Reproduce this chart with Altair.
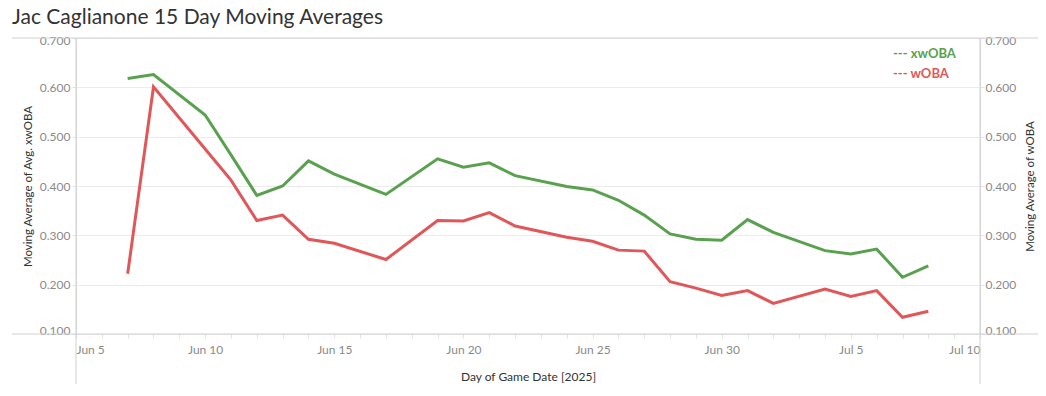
import altair as alt
import pandas as pd

dates = ["2025-06-07", "2025-06-08", "2025-06-10", "2025-06-11", "2025-06-12", "2025-06-13",
         "2025-06-14", "2025-06-15", "2025-06-17", "2025-06-19", "2025-06-20", "2025-06-21",
         "2025-06-22", "2025-06-24", "2025-06-25", "2025-06-26", "2025-06-27", "2025-06-28",
         "2025-06-29", "2025-06-30", "2025-07-01", "2025-07-02", "2025-07-04", "2025-07-05",
         "2025-07-06", "2025-07-07", "2025-07-08"]
xwoba = [0.618, 0.626, 0.544, 0.463, 0.381, 0.400, 0.451, 0.424, 0.383, 0.455, 0.438, 0.447,
         0.421, 0.399, 0.392, 0.371, 0.341, 0.303, 0.292, 0.290, 0.332, 0.306, 0.269, 0.262,
         0.272, 0.215, 0.238]
woba = [0.222, 0.601, 0.475, 0.412, 0.330, 0.341, 0.292, 0.284, 0.251, 0.330, 0.329, 0.346,
        0.319, 0.296, 0.288, 0.270, 0.268, 0.206, 0.193, 0.178, 0.188, 0.162, 0.191, 0.176,
        0.188, 0.134, 0.146]
y_ticks = [0.1, 0.2, 0.3, 0.4, 0.5, 0.6, 0.7]
legend_labels = ["--- xwOBA", "--- wOBA"]

GREEN = "#59A14F"
RED = "#E15759"
FONT = "Lato"
W, H = 904, 296

df = pd.DataFrame({"date": dates, "xwOBA": xwoba, "wOBA": woba})

day_ticks = [alt.DateTime(year=d.year, month=d.month, date=d.day, utc=True)
             for d in pd.date_range("2025-06-05", "2025-07-10", freq="D")]
x_domain = [alt.DateTime(year=2025, month=6, date=5, utc=True),
            alt.DateTime(year=2025, month=7, date=10, utc=True)]

x_scale = alt.Scale(type="utc", domain=x_domain, nice=False)
y_scale = alt.Scale(domain=[0.1, 0.7], nice=False, zero=False)

x_axis = alt.Axis(
    values=day_ticks,
    labelExpr="utcdate(datum.value) % 5 == 0 ? utcFormat(datum.value, '%b %-d') : ''",
    labelOverlap=False, labelFlush=True, grid=False, domain=False,
    tickSize=4, tickColor="#e3e3e3", labelPadding=6, labelColor="#8a8a8a",
    labelFontSize=12, labelFont=FONT, title="Day of Game Date [2025]",
    titleFont=FONT, titleFontSize=12, titleFontWeight="normal", titleColor="#333333",
    titlePadding=16,
)

base = alt.Chart(df)

green = base.mark_line(color=GREEN, strokeWidth=3).encode(
    x=alt.X("date:T", scale=x_scale, axis=x_axis),
    y=alt.Y("xwOBA:Q", scale=y_scale, axis=alt.Axis(
        values=y_ticks, format=".3f", grid=True, gridColor="#ececec", domain=False,
        tickSize=4, tickColor="#e3e3e3", labelPadding=2, labelColor="#8a8a8a",
        labelFontSize=12, labelFont=FONT, labelFlush=True, labelFlushOffset=3,
        title="Moving Average of Avg. xwOBA", titleFont=FONT, titleFontSize=11.5,
        titleFontWeight="normal", titleColor="#333333", titlePadding=6)),
)

red = base.mark_line(color=RED, strokeWidth=3).encode(
    x=alt.X("date:T", scale=x_scale, axis=x_axis),
    y=alt.Y("wOBA:Q", scale=y_scale, axis=alt.Axis(
        orient="right", values=y_ticks, format=".3f", grid=False, domain=False,
        tickSize=4, tickColor="#e3e3e3", labelPadding=1, labelColor="#8a8a8a",
        labelFontSize=12, labelFont=FONT, labelFlush=True, labelFlushOffset=3,
        title="Moving Average of wOBA", titleFont=FONT, titleFontSize=11.5,
        titleFontWeight="normal", titleColor="#333333", titlePadding=20, titleAngle=270)),
)

one = alt.Data(values=[{}])
line_color = "#d0d0d0"
top_rule = alt.Chart(one).mark_rule(color=line_color, strokeWidth=1).encode(
    x=alt.value(-64), x2=alt.value(W + 60), y=alt.value(0))
bottom_rule = alt.Chart(one).mark_rule(color=line_color, strokeWidth=1).encode(
    x=alt.value(-64), x2=alt.value(W + 60), y=alt.value(H))
left_rule = alt.Chart(one).mark_rule(color=line_color, strokeWidth=1).encode(
    x=alt.value(0), y=alt.value(0), y2=alt.value(H + 56))
right_rule = alt.Chart(one).mark_rule(color=line_color, strokeWidth=1).encode(
    x=alt.value(W), y=alt.value(0), y2=alt.value(H + 56))

leg1 = alt.Chart(alt.Data(values=[{"t": legend_labels[0]}])).mark_text(
    align="left", baseline="middle", font=FONT, fontSize=13, fontWeight="bold",
    color=GREEN).encode(text="t:N", x=alt.value(817), y=alt.value(16))
leg2 = alt.Chart(alt.Data(values=[{"t": legend_labels[1]}])).mark_text(
    align="left", baseline="middle", font=FONT, fontSize=13, fontWeight="bold",
    color=RED).encode(text="t:N", x=alt.value(817), y=alt.value(36))

chart = alt.layer(
    top_rule, bottom_rule, left_rule, right_rule, green, red, leg1, leg2
).resolve_scale(y="independent").properties(
    width=W, height=H,
    title=alt.TitleParams(
        "Jac Caglianone 15 Day Moving Averages", anchor="start", frame="group",
        dx=-64, offset=6, fontSize=21, font=FONT, fontWeight="normal", color="#333333"),
    autosize=alt.AutoSizeParams(type="none"),
    padding={"left": 68, "top": 30, "right": 58, "bottom": 50},
).configure_view(strokeWidth=0).configure(background="white")

chart.save("out.html", embed_options={"renderer": "svg", "actions": False})
